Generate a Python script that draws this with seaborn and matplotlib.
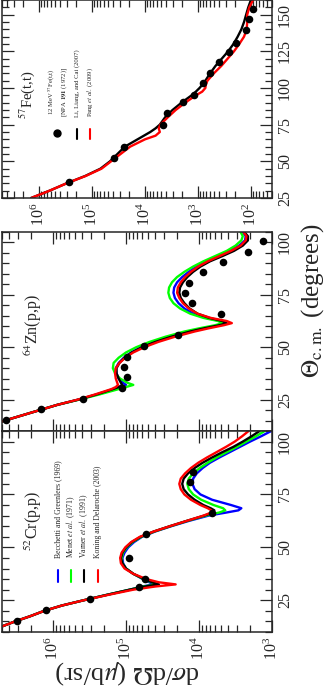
import numpy as np
import pandas as pd
import matplotlib
matplotlib.use("Agg")
import matplotlib.pyplot as plt
import seaborn as sns
from matplotlib.ticker import LogLocator, LogFormatterMathtext, MultipleLocator, NullFormatter

# ---------------- data (log10 of dsigma/dOmega in mub/sr) ----------------
cr_theta = [10, 12.5, 15, 17.5, 20, 22.5, 25, 27.5, 30, 31.5, 32.5, 33.5, 35, 37.5, 40, 42.5, 45,
            47.5, 50, 52.5, 55, 57.5, 60, 62.5, 65, 66.5, 67.5, 68.5, 70, 72.5, 75, 77.5, 80,
            82.5, 85, 87.5, 90, 92.5, 95, 97.5, 100, 102.5, 105]
cr_varner = [6.90, 6.71, 6.52, 6.31, 6.12, 5.88, 5.58, 5.27, 4.95, 4.74, 4.55, 4.64, 4.75, 4.90, 5.00,
             5.05, 5.07, 5.05, 5.00, 4.92, 4.80, 4.62, 4.40, 4.17, 3.93, 3.80, 3.79, 3.84, 3.94,
             4.06, 4.15, 4.21, 4.23, 4.21, 4.15, 4.06, 3.95, 3.82, 3.68, 3.53, 3.40, 3.28, 3.17]
cr_becchetti = [6.90, 6.71, 6.52, 6.31, 6.12, 5.88, 5.58, 5.27, 4.95, 4.78, 4.62, 4.68, 4.77, 4.90, 5.00,
                5.04, 5.05, 5.02, 4.97, 4.89, 4.78, 4.60, 4.38, 4.14, 3.87, 3.62, 3.46, 3.42, 3.56,
                3.82, 3.98, 4.06, 4.09, 4.08, 4.03, 3.95, 3.85, 3.72, 3.58, 3.44, 3.30, 3.15, 3.01]
cr_menet = [6.90, 6.71, 6.52, 6.31, 6.12, 5.88, 5.58, 5.27, 4.95, 4.76, 4.57, 4.65, 4.76, 4.90, 5.00,
            5.05, 5.06, 5.04, 4.99, 4.91, 4.79, 4.61, 4.39, 4.16, 3.91, 3.72, 3.64, 3.67, 3.80,
            3.97, 4.08, 4.14, 4.16, 4.14, 4.08, 3.99, 3.88, 3.76, 3.62, 3.48, 3.35, 3.22, 3.10]
cr_koning = [6.90, 6.71, 6.52, 6.31, 6.12, 5.88, 5.58, 5.25, 4.90, 4.60, 4.32, 4.55, 4.72, 4.90, 5.02,
             5.07, 5.08, 5.06, 5.01, 4.93, 4.81, 4.62, 4.40, 4.17, 3.94, 3.83, 3.83, 3.88, 3.98,
             4.11, 4.20, 4.25, 4.27, 4.25, 4.19, 4.11, 4.01, 3.89, 3.76, 3.63, 3.51, 3.41, 3.32]
cr_exp_theta = [15.2, 20.5, 25.7, 31.1, 35.2, 45.2, 56.2, 66.2, 81.0, 85.7]
cr_exp = [6.50, 6.10, 5.50, 4.82, 4.74, 4.96, 4.72, 3.82, 4.13, 4.08]

zn_theta = [10, 12.5, 15, 17.5, 20, 22.5, 25, 27.5, 30, 31, 32, 33, 35, 37.5, 40, 42.5, 45, 47.5,
            50, 52.5, 55, 57.5, 59, 60.5, 61.5, 62.5, 64, 66, 68.5, 71, 73.5, 76, 78.5, 81, 83.5,
            86, 88.5, 91, 93.5, 96, 98.5, 101, 103, 105]
zn_varner = [7.12, 6.90, 6.66, 6.42, 6.18, 5.94, 5.65, 5.40, 5.18, 5.10, 5.05, 5.07, 5.10, 5.13, 5.13,
             5.09, 5.02, 4.92, 4.78, 4.60, 4.38, 4.12, 3.93, 3.72, 3.62, 3.68, 3.86, 4.02, 4.13,
             4.20, 4.25, 4.27, 4.26, 4.22, 4.16, 4.08, 3.98, 3.85, 3.68, 3.52, 3.40, 3.33, 3.33, 3.38]
zn_menet = [7.12, 6.90, 6.66, 6.42, 6.18, 5.94, 5.64, 5.36, 5.10, 5.00, 4.90, 4.98, 5.08, 5.15, 5.18,
            5.17, 5.10, 5.00, 4.86, 4.68, 4.46, 4.20, 4.00, 3.78, 3.68, 3.74, 3.94, 4.12, 4.26,
            4.35, 4.40, 4.42, 4.41, 4.37, 4.30, 4.20, 4.08, 3.94, 3.78, 3.62, 3.50, 3.42, 3.40, 3.43]
zn_becchetti = [7.12, 6.90, 6.66, 6.42, 6.18, 5.94, 5.65, 5.39, 5.15, 5.06, 5.00, 5.04, 5.10, 5.13, 5.14,
                5.10, 5.03, 4.93, 4.79, 4.61, 4.39, 4.13, 3.94, 3.72, 3.63, 3.70, 3.90, 4.08, 4.20,
                4.28, 4.33, 4.35, 4.34, 4.30, 4.23, 4.14, 4.03, 3.90, 3.74, 3.58, 3.45, 3.37, 3.36, 3.40]
zn_koning = [7.12, 6.90, 6.66, 6.42, 6.18, 5.94, 5.66, 5.42, 5.20, 5.14, 5.11, 5.12, 5.14, 5.15, 5.14,
             5.09, 5.01, 4.90, 4.75, 4.56, 4.33, 4.06, 3.87, 3.66, 3.55, 3.62, 3.84, 4.02, 4.14,
             4.22, 4.27, 4.30, 4.29, 4.25, 4.19, 4.11, 4.01, 3.88, 3.72, 3.56, 3.43, 3.36, 3.35, 3.39]
zn_exp_theta = [15.1, 20.3, 25.5, 30.7, 35.8, 40.6, 45.3, 50.7, 55.7, 66.0, 71.0, 76.0, 80.8, 85.8,
                90.6, 95.3, 100.5]
zn_exp = [6.65, 6.16, 5.59, 5.05, 4.99, 5.03, 4.98, 4.76, 4.29, 3.70, 4.10, 4.19, 4.14, 3.95, 3.67,
          3.33, 3.12]

fe_theta = [25, 30, 35, 40, 45, 50, 55, 60, 65, 67.5, 70, 72.5, 75, 80, 85, 90, 95, 97.5, 100, 102.5,
            105, 110, 115, 120, 125, 130, 135, 140, 145, 150, 155, 160]
fe_li = [6.15, 5.80, 5.48, 5.13, 4.84, 4.66, 4.52, 4.38, 4.14, 4.02, 3.90, 3.80, 3.72, 3.62, 3.48,
         3.31, 3.12, 3.04, 2.97, 2.91, 2.86, 2.77, 2.67, 2.55, 2.43, 2.33, 2.25, 2.18, 2.13, 2.09,
         2.05, 2.00]
fe_pang = [6.15, 5.80, 5.48, 5.12, 4.82, 4.64, 4.46, 4.28, 4.00, 3.80, 3.72, 3.74, 3.71, 3.57, 3.42,
           3.24, 3.04, 2.92, 2.86, 2.85, 2.82, 2.70, 2.56, 2.44, 2.32, 2.22, 2.13, 2.08, 2.07, 2.07,
           2.03, 1.96]
fe_exp_theta = [35.9, 52.2, 59.7, 74.7, 82.8, 90.3, 95.0, 103.2, 110.0, 117.5, 124.3, 131.0, 139.3,
                146.8, 154.0]
fe_exp = [5.44, 4.59, 4.40, 3.66, 3.59, 3.29, 3.07, 2.90, 2.78, 2.61, 2.42, 2.29, 2.10, 2.03, 1.97]

BLUE, GREEN, BLACK, RED = "#0000ff", "#00ff00", "#000000", "#ff0000"

# ---------------- style ----------------
sns.set_style("ticks")
plt.rcParams["font.family"] = ["Liberation Serif", "DejaVu Serif"]
plt.rcParams["mathtext.fontset"] = "stix"

fig = plt.figure(figsize=(3.33, 6.89), dpi=100)
W, H = 333.0, 689.0


def add_ax(x0, y_top, x1, y_bot):
    return fig.add_axes([x0 / W, 1 - y_bot / H, (x1 - x0) / W, (y_bot - y_top) / H])


ax_fe = add_ax(2, 0, 272, 198)
ax_zn = add_ax(2, 232, 272, 431)
ax_cr = add_ax(2, 431, 272, 632)


def draw_models(ax, theta, models):
    for vals, col in models:
        df = pd.DataFrame({"theta": theta, "xs": 10 ** np.array(vals)})
        sns.lineplot(data=df, x="xs", y="theta", orient="y", estimator=None, color=col,
                     linewidth=1.7, ax=ax, legend=False)


def draw_exp(ax, theta, vals):
    df = pd.DataFrame({"theta": theta, "xs": 10 ** np.array(vals)})
    sns.scatterplot(data=df, x="xs", y="theta", color="black", s=30, edgecolor="black",
                    linewidth=0, ax=ax, legend=False, zorder=5)


draw_models(ax_cr, cr_theta, [(cr_becchetti, BLUE), (cr_menet, GREEN), (cr_varner, BLACK), (cr_koning, RED)])
draw_exp(ax_cr, cr_exp_theta, cr_exp)
draw_models(ax_zn, zn_theta, [(zn_becchetti, BLUE), (zn_menet, GREEN), (zn_varner, BLACK), (zn_koning, RED)])
draw_exp(ax_zn, zn_exp_theta, zn_exp)
draw_models(ax_fe, fe_theta, [(fe_li, BLACK), (fe_pang, RED)])
draw_exp(ax_fe, fe_exp_theta, fe_exp)


def style_ax(ax, xlim, ylim, show_xlabels):
    ax.set_xscale("log")
    ax.set_xlim(*xlim)
    ax.set_ylim(*ylim)
    ax.set_xlabel("")
    ax.set_ylabel("")
    ax.xaxis.set_major_locator(LogLocator(base=10))
    ax.xaxis.set_minor_locator(LogLocator(base=10, subs=np.arange(2, 10)))
    ax.xaxis.set_major_formatter(LogFormatterMathtext())
    ax.xaxis.set_minor_formatter(NullFormatter())
    ax.yaxis.set_major_locator(MultipleLocator(25))
    ax.yaxis.set_minor_locator(MultipleLocator(5))
    for s in ax.spines.values():
        s.set_linewidth(1.1)
        s.set_visible(True)
    ax.tick_params(which="both", direction="in", top=True, bottom=True, left=True, right=True,
                   width=0.9, labelleft=False, labelright=True, labeltop=False,
                   labelbottom=show_xlabels)
    ax.tick_params(which="major", length=8.5)
    ax.tick_params(which="minor", length=5)
    ax.tick_params(axis="both", labelsize=11.5, pad=3.5)
    for lab in ax.get_yticklabels():
        lab.set_rotation(90)
        lab.set_va("center")
    for lab in ax.get_xticklabels():
        lab.set_rotation(90)
        lab.set_ha("center")


style_ax(ax_fe, (5e6, 40), (25, 160), True)
style_ax(ax_zn, (5e6, 1e3), (10, 105), False)
style_ax(ax_cr, (5e6, 1e3), (10, 105), True)

# panel titles
ax_fe.text(0.095, 0.52, r"$^{57}$Fe(t,t)", transform=ax_fe.transAxes, rotation=90,
           fontsize=10.5, ha="center", va="center")
ax_zn.text(0.115, 0.53, r"$^{64}$Zn(p,p)", transform=ax_zn.transAxes, rotation=90,
           fontsize=11.5, ha="center", va="center")
ax_cr.text(0.115, 0.55, r"$^{52}$Cr(p,p)", transform=ax_cr.transAxes, rotation=90,
           fontsize=11.5, ha="center", va="center")

# legend for Fe panel (drawn rotated)
fe_leg_x = [0.205, 0.278, 0.326]
ax_fe.plot([fe_leg_x[0]], [0.328], "o", color="black", ms=5, transform=ax_fe.transAxes)
ax_fe.plot([fe_leg_x[1]] * 2, [0.30, 0.35], color=BLACK, lw=1.5, transform=ax_fe.transAxes)
ax_fe.plot([fe_leg_x[2]] * 2, [0.30, 0.35], color=RED, lw=1.5, transform=ax_fe.transAxes)
fe_leg_txt = [r"12 MeV $^{57}$Fe(t,t)" + "\n" + r"[NPA $\mathbf{191}$ (1972)]",
              "Li, Liang, and Cai (2007)",
              r"Pang $\it{et\ al.}$ (2009)"]
for xx, t in zip(fe_leg_x, fe_leg_txt):
    ax_fe.text(xx, 0.41, t, transform=ax_fe.transAxes, rotation=90, fontsize=4.8,
               ha="center", va="bottom", linespacing=1.3)

# legend for Cr panel
cr_leg_x = [0.207, 0.256, 0.304, 0.356]
cr_leg_c = [BLUE, GREEN, BLACK, RED]
cr_leg_txt = ["Becchetti and Greenlees (1969)", r"Menet $\it{et\ al.}$ (1971)",
              r"Varner $\it{et\ al.}$ (1991)", "Koning and Delaroche (2003)"]
for xx, c, t in zip(cr_leg_x, cr_leg_c, cr_leg_txt):
    ax_cr.plot([xx, xx], [0.25, 0.31], color=c, lw=1.5, transform=ax_cr.transAxes)
    ax_cr.text(xx, 0.37, t, transform=ax_cr.transAxes, rotation=90, fontsize=5.6,
               ha="center", va="bottom")

# axis titles
fig.text(313 / W, 1 - 301 / H, r"$\Theta_{\mathrm{c.m.}}$ (degrees)", rotation=90,
         fontsize=18, ha="center", va="center")
fig.text(128 / W, 1 - 672 / H, r"d$\sigma$/d$\Omega$ ($\mu$b/sr)", rotation=180,
         fontsize=19, ha="center", va="center")

fig.savefig("out.png", dpi=100)
